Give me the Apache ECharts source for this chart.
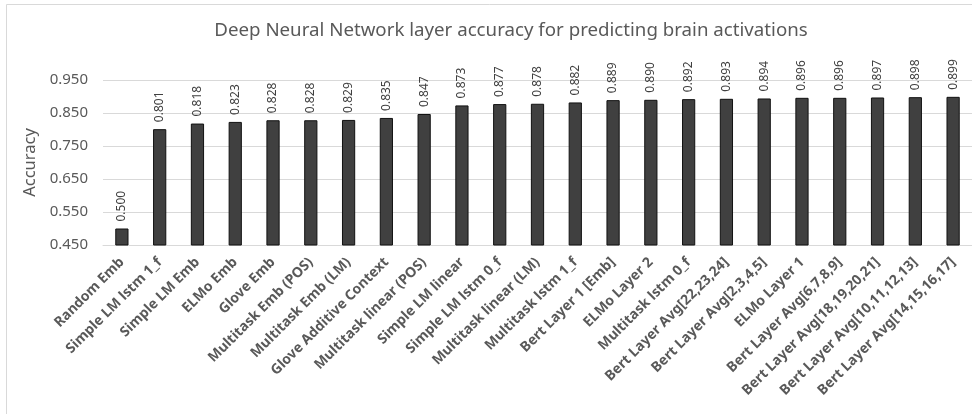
<!DOCTYPE html>
<html>
<head>
<meta charset="utf-8">
<script src="https://cdn.jsdelivr.net/npm/echarts@6/dist/echarts.min.js"></script>
<style>
html,body{margin:0;padding:0;background:#fff;}
#c{width:972px;height:414px;}
</style>
</head>
<body>
<div id="c"></div>
<script>
const categories = [
  "Random Emb", "Simple LM lstm 1_f", "Simple LM Emb", "ELMo Emb", "Glove Emb",
  "Multitask Emb (POS)", "Multitask Emb (LM)", "Glove Additive Context",
  "Multitask linear (POS)", "Simple LM linear", "Simple LM lstm 0_f",
  "Multitask linear (LM)", "Multitask lstm 1_f", "Bert Layer 1 [Emb]",
  "ELMo Layer 2", "Multitask lstm 0_f", "Bert Layer Avg[22,23,24]",
  "Bert Layer Avg[2,3,4,5]", "ELMo Layer 1", "Bert Layer Avg[6,7,8,9]",
  "Bert Layer Avg[18,19,20,21]", "Bert Layer Avg[10,11,12,13]",
  "Bert Layer Avg[14,15,16,17]"
];
const accuracy = [
  0.500, 0.801, 0.818, 0.823, 0.828, 0.828, 0.829, 0.835, 0.847, 0.873,
  0.877, 0.878, 0.882, 0.889, 0.890, 0.892, 0.893, 0.894, 0.896, 0.896,
  0.897, 0.898, 0.899
];
const yMin = 0.45, yMax = 0.95, yStep = 0.1;

const chart = echarts.init(document.getElementById('c'), null, {renderer:'canvas'});
chart.setOption({
  animation: false,
  backgroundColor: '#fff',
  title: {
    text: 'Deep Neural Network layer accuracy for predicting brain activations',
    left: 506, top: 16, textAlign: 'center',
    textStyle: {fontFamily: 'Noto Sans', fontSize: 18.7, fontWeight: 'normal', color: '#595959'}
  },
  graphic: [{
    type: 'rect', silent: true, z: -1,
    shape: {x: 6.5, y: 4.5, width: 1200, height: 800},
    style: {fill: 'none', stroke: '#d9d9d9', lineWidth: 1}
  }],
  grid: {left: 103, top: 80, width: 870, height: 165, containLabel: false},
  xAxis: {
    type: 'category',
    data: categories,
    axisLine: {show: true, lineStyle: {color: '#d9d9d9', width: 1}},
    axisTick: {show: false},
    axisLabel: {
      interval: 0, rotate: 45, margin: 15,
      fontFamily: 'Noto Sans', fontSize: 14, fontWeight: 'bold', color: '#595959'
    }
  },
  yAxis: {
    type: 'value',
    min: yMin, max: yMax, interval: yStep,
    name: 'Accuracy', nameLocation: 'middle', nameGap: 58, nameRotate: 90,
    nameTextStyle: {fontFamily: 'Noto Sans', fontSize: 16.5, color: '#595959'},
    axisLine: {show: false}, axisTick: {show: false},
    axisLabel: {
      margin: 15, fontFamily: 'Noto Sans', fontSize: 15, color: '#595959',
      formatter: v => v.toFixed(3)
    },
    splitLine: {lineStyle: {color: '#d9d9d9', width: 1}}
  },
  series: [{
    type: 'bar',
    data: accuracy,
    barWidth: '35%',
    itemStyle: {color: '#404040', borderColor: '#111', borderWidth: 1},
    label: {
      show: true, position: 'top', rotate: 90, align: 'left', verticalAlign: 'middle',
      distance: 7, fontFamily: 'Noto Sans', fontSize: 12, color: '#404040',
      formatter: p => p.value.toFixed(3)
    }
  }]
});
</script>
</body>
</html>
